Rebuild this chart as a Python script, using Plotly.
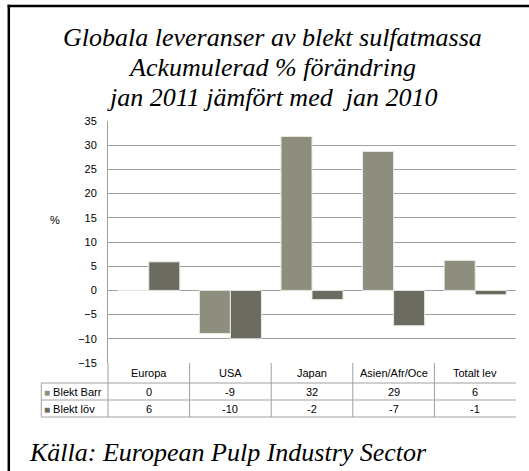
import plotly.graph_objects as go

categories = ["Europa", "USA", "Japan", "Asien/Afr/Oce", "Totalt lev"]
series_names = ["Blekt Barr", "Blekt löv"]
barr = [0, -8.9, 31.8, 28.7, 6.2]
lov = [5.9, -10.0, -1.9, -7.3, -0.9]
table_barr = [0, -9, 32, 29, 6]
table_lov = [6, -10, -2, -7, -1]
yticks = [35, 30, 25, 20, 15, 10, 5, 0, -5, -10, -15]
colors = ["#8E8E7E", "#6B6B60"]

W, H = 529, 471
L, R, T, B = 107.7, 515.7, 121, 363

def px(x):
    return (x - L) / (R - L)

def py(y):
    return (B - y) / (B - T)

fig = go.Figure()
for name, vals, c in zip(series_names, [barr, lov], colors):
    fig.add_trace(go.Bar(x=categories, y=vals, name=name,
                         marker=dict(color=c, line=dict(color="#E8E8E0", width=1))))

shapes = []
annotations = []
grid = "#A0A0A0"
# table lines
for y in [383, 400, 417]:
    shapes.append(dict(type="line", xref="paper", yref="paper", x0=px(41), x1=1, y0=py(y), y1=py(y),
                       line=dict(color=grid, width=1)))
shapes.append(dict(type="line", xref="paper", yref="paper", x0=px(41), x1=px(41), y0=py(383), y1=py(417),
                   line=dict(color=grid, width=1)))
for i in range(5):
    shapes.append(dict(type="line", xref="paper", yref="paper", x0=i / 5, x1=i / 5, y0=0, y1=py(417),
                       line=dict(color=grid, width=1)))
# outer frame (left and top edges only visible)
frame = dict(color="black", width=2.5)
shapes.append(dict(type="line", xref="paper", yref="paper", x0=px(8.5), x1=px(8.5), y0=py(4.8), y1=py(471),
                   line=frame))
shapes.append(dict(type="line", xref="paper", yref="paper", x0=px(7.3), x1=px(529), y0=py(6), y1=py(6),
                   line=frame))

def ann(x, y, text, font, xanchor="center"):
    annotations.append(dict(x=x, y=y, xref="paper", yref="paper", text=text, showarrow=False, font=font,
                            xanchor=xanchor, yanchor="middle"))

tf = dict(family="Liberation Sans, Arial", size=11, color="black")
for i, cat in enumerate(categories):
    xc = (i + 0.5) / 5
    ann(xc, py(373), cat, tf)
    ann(xc, py(391.5), str(table_barr[i]), tf)
    ann(xc, py(408.5), str(table_lov[i]), tf)
for name, c, yy in zip(series_names, colors, [391.5, 408.5]):
    ann(px(42), py(yy), f"<span style='color:{c};font-size:10px'>■</span> {name}", tf, xanchor="left")
ann(px(55), py(220), "%", tf)

title_lines = ["Globala leveranser av blekt sulfatmassa", "Ackumulerad % förändring",
               "jan 2011 jämfört med  jan 2010"]
ff = dict(family="Liberation Serif, Times New Roman", size=26, color="black")
for line, yy in zip(title_lines, [37, 67, 97]):
    ann(px(272), py(yy), f"<i>{line}</i>", ff)
ann(px(27), py(452), "<i>Källa: European Pulp Industry Sector</i>", ff, xanchor="left")

fig.update_layout(
    width=W, height=H,
    margin=dict(l=L, r=W - R, t=T, b=H - B, pad=0),
    paper_bgcolor="white", plot_bgcolor="white",
    barmode="group", bargap=0.24, bargroupgap=0,
    showlegend=False,
    shapes=shapes, annotations=annotations,
    xaxis=dict(showticklabels=False, showgrid=False, zeroline=False, showline=False, ticks=""),
    yaxis=dict(range=[-15, 35], tickvals=yticks, showgrid=True, gridcolor=grid, gridwidth=1,
               zeroline=True, zerolinecolor=grid, zerolinewidth=1, showline=True, linecolor=grid,
               ticks="", tickfont=tf, ticklabelstandoff=8, automargin=False),
)
fig.write_html("out.html", config={"displayModeBar": False},
               post_script="document.body.style.margin='0';document.body.style.overflow='hidden';")
